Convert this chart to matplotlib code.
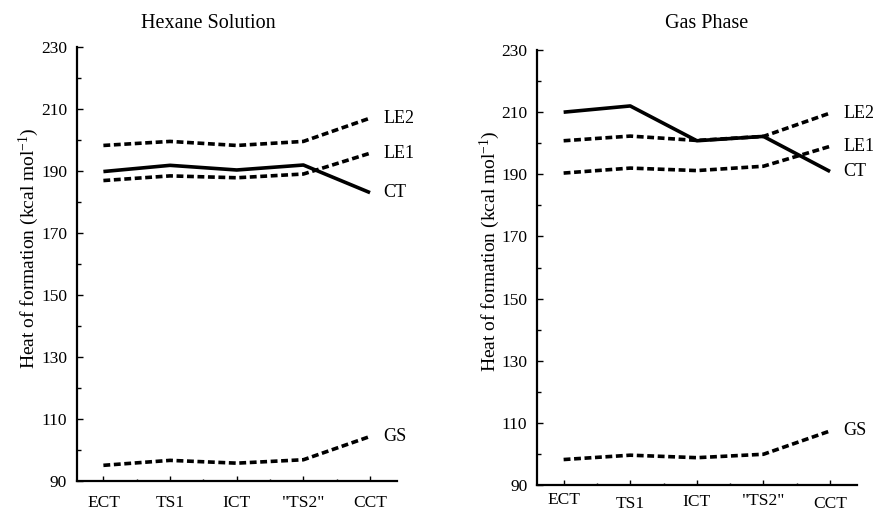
import matplotlib
matplotlib.use("Agg")
import matplotlib.pyplot as plt
from matplotlib.ticker import FixedLocator

plt.rcParams['font.family'] = ['Liberation Serif', 'DejaVu Serif']
plt.rcParams['mathtext.fontset'] = 'custom'
plt.rcParams['mathtext.rm'] = 'Liberation Serif'
plt.rcParams['mathtext.it'] = 'Liberation Serif:italic'

# x categories
states = ['ECT', 'TS1', 'ICT', '"TS2"', 'CCT']

# Hexane solution (kcal/mol)
hex_le2 = [198.2, 199.5, 198.2, 199.5, 207.0]
hex_le1 = [186.9, 188.4, 187.8, 189.0, 195.7]
hex_ct = [189.8, 191.8, 190.3, 191.9, 183.0]
hex_gs = [95.2, 96.8, 95.9, 97.0, 104.5]

# Gas phase (kcal/mol)
gas_le2 = [200.8, 202.3, 200.9, 202.2, 209.7]
gas_le1 = [190.4, 192.0, 191.2, 192.6, 199.0]
gas_ct = [210.0, 212.0, 200.8, 202.2, 190.9]
gas_gs = [98.2, 99.6, 98.8, 99.9, 107.4]

series_names = ['LE2', 'LE1', 'CT', 'GS']
solid = {'CT'}

y_major = list(range(90, 231, 20))
y_minor = list(range(100, 230, 20))

fig = plt.figure(figsize=(8.74, 5.12), dpi=100)
ax1 = fig.add_axes([0.0878, 0.0596, 0.3661, 0.8492])
ax2 = fig.add_axes([0.6144, 0.0527, 0.3658, 0.8496])

# per-label padding (the gas phase labels sit a bit uneven in the original)
panels = [
    (ax1, [hex_le2, hex_le1, hex_ct, hex_gs], [9.5, 9.5, 9.5, 9.5, 9.5]),
    (ax2, [gas_le2, gas_le1, gas_ct, gas_gs], [5.0, 8.0, 6.5, 5.5, 8.0]),
]

x = list(range(len(states)))
for ax, data, pads in panels:
    for name, vals in zip(series_names, data):
        if name in solid:
            ax.plot(x, vals, color='black', lw=2.6, solid_capstyle='butt')
        else:
            ax.plot(x, vals, color='black', lw=2.6, linestyle=(0, (1.9, 1.0)),
                    dash_capstyle='butt')
        ax.text(4.2, vals[-1], name, ha='left', va='center', fontsize=13,
                clip_on=False)

    ax.set_xlim(-0.4, 4.4)
    ax.set_ylim(90, 230)
    ax.set_xticks(x)
    ax.set_xticklabels(states, fontsize=12.5)
    ax.xaxis.set_minor_locator(FixedLocator([0.5, 1.5, 2.5, 3.5]))
    ax.yaxis.set_major_locator(FixedLocator(y_major))
    ax.yaxis.set_minor_locator(FixedLocator(y_minor))
    ax.tick_params(axis='y', which='major', direction='in', length=4.3,
                   width=1.0, labelsize=12.5, pad=7)
    ax.tick_params(axis='y', which='minor', direction='in', length=3,
                   width=1.0)
    ax.tick_params(axis='x', which='major', direction='in', length=3.6,
                   width=1.0)
    ax.tick_params(axis='x', which='minor', direction='in', length=1.7,
                   width=1.0)
    for t, p in zip(ax.xaxis.get_major_ticks(), pads):
        t.set_pad(p)
    for s in ['top', 'right']:
        ax.spines[s].set_visible(False)
    for s in ['left', 'bottom']:
        ax.spines[s].set_linewidth(1.6)

fig.text(0.238, 0.9453, 'Hexane Solution', ha='center', va='baseline',
         fontsize=14.5)
fig.text(0.809, 0.9453, 'Gas Phase', ha='center', va='baseline',
         fontsize=14.5)

ylab = r'Heat of formation (kcal mol$^{\mathrm{-1}}$)'
fig.text(0.033, 0.516, ylab, rotation=90, ha='center', va='center',
         fontsize=14)
fig.text(0.560, 0.510, ylab, rotation=90, ha='center', va='center',
         fontsize=14)

fig.savefig('out.png', dpi=100, facecolor='white')
